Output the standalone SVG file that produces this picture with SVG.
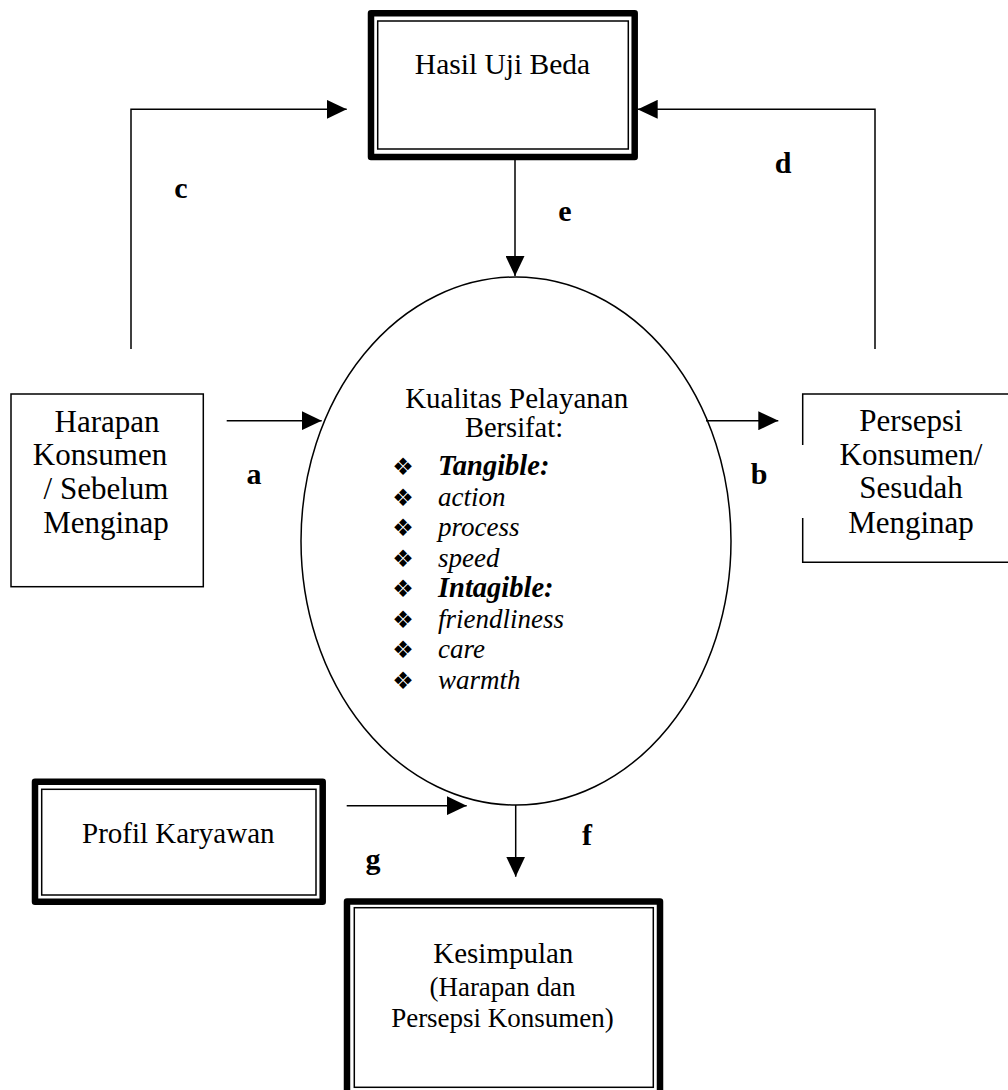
<svg xmlns="http://www.w3.org/2000/svg" width="1008" height="1090" viewBox="0 0 1008 1090">
<style>
.t{font-family:"Liberation Serif","Times New Roman",serif;fill:#000;text-anchor:middle}
.lbl{font-family:"Liberation Serif","Times New Roman",serif;font-weight:bold;font-size:30px;fill:#000;text-anchor:middle}
.thick{fill:none;stroke:#000;stroke-width:6.5;stroke-linejoin:round}
.thin{fill:none;stroke:#000;stroke-width:1.5}
.box{fill:#fff;stroke:#000;stroke-width:1.5}
.conn{fill:none;stroke:#000;stroke-width:1.5}
.bul{font-family:"DejaVu Sans",sans-serif;font-size:24px;fill:#000;text-anchor:middle}
.it{font-family:"Liberation Serif","Times New Roman",serif;font-style:italic;font-size:27px;fill:#000}
.bi{font-family:"Liberation Serif","Times New Roman",serif;font-style:italic;font-weight:bold;font-size:28.5px;fill:#000}
</style>
<defs>
<marker id="ah" markerUnits="userSpaceOnUse" markerWidth="20" markerHeight="19" refX="20" refY="9.5" orient="auto">
<path d="M0,0 L20,9.5 L0,19 z" fill="#000"/>
</marker>
</defs>
<rect width="1008" height="1090" fill="#fff"/>

<g id="hasil">
<rect class="thick" x="371" y="13.3" width="263.7" height="143.7"/>
<rect class="thin" x="377.7" y="21" width="250.6" height="128"/>
<text class="t" x="502.5" y="74" font-size="29.5">Hasil Uji Beda</text>
</g>

<g id="harapan">
<rect class="box" x="11" y="394" width="192.3" height="192.7"/>
<text class="t" font-size="31"><tspan x="107" y="431.7">Harapan</tspan><tspan x="100" y="465">Konsumen</tspan><tspan x="106" y="499.3">/ Sebelum</tspan><tspan x="106" y="533.3">Menginap</tspan></text>
</g>

<g id="persepsi">
<path class="thin" d="M1020,394 H802.7 V445 M802.7,518 V562.3 H1020"/>
<text class="t" font-size="31"><tspan x="911" y="430.7">Persepsi</tspan><tspan x="911" y="465">Konsumen/</tspan><tspan x="911" y="498">Sesudah</tspan><tspan x="911" y="533">Menginap</tspan></text>
</g>

<g id="kualitas">
<ellipse class="thin" cx="516" cy="541" rx="215" ry="264"/>
<text class="t" x="516.7" y="408" font-size="29">Kualitas Pelayanan</text>
<text class="t" x="514" y="437" font-size="28.5">Bersifat:</text>
<g class="bul">
<text x="403" y="475">❖</text>
<text x="403" y="505.5">❖</text>
<text x="403" y="536">❖</text>
<text x="403" y="566.5">❖</text>
<text x="403" y="597">❖</text>
<text x="403" y="627.5">❖</text>
<text x="403" y="658">❖</text>
<text x="403" y="688.5">❖</text>
</g>
<text class="bi" x="438" y="475">Tangible:</text>
<text class="it" x="438" y="505.5">action</text>
<text class="it" x="438" y="536">process</text>
<text class="it" x="438" y="566.5">speed</text>
<text class="bi" x="438" y="597">Intagible:</text>
<text class="it" x="438" y="627.5">friendliness</text>
<text class="it" x="438" y="658">care</text>
<text class="it" x="438" y="688.5">warmth</text>
</g>

<g id="profil">
<rect class="thick" x="35" y="781.7" width="287.7" height="120"/>
<rect class="thin" x="41.7" y="789.3" width="274.3" height="105.7"/>
<text class="t" x="178.3" y="843" font-size="29">Profil Karyawan</text>
</g>

<g id="kesimpulan">
<rect class="thick" x="347" y="901.5" width="313" height="200"/>
<rect class="thin" x="354.3" y="907.7" width="299" height="179.6"/>
<text class="t" x="503.3" y="963" font-size="29">Kesimpulan</text>
<text class="t" x="502.5" y="996" font-size="27">(Harapan dan</text>
<text class="t" x="502.5" y="1027" font-size="27">Persepsi Konsumen)</text>
</g>

<g id="connectors">
<path class="conn" d="M131,349 V109.3 H346.7" marker-end="url(#ah)"/>
<path class="conn" d="M875,349 V109.3 H637.7" marker-end="url(#ah)"/>
<path class="conn" d="M515,160 V276" marker-end="url(#ah)"/>
<path class="conn" d="M226.7,420.7 H321.7" marker-end="url(#ah)"/>
<path class="conn" d="M706,420.7 H778.3" marker-end="url(#ah)"/>
<path class="conn" d="M515.7,805 V876.7" marker-end="url(#ah)"/>
<path class="conn" d="M346.7,805.7 H466.7" marker-end="url(#ah)"/>
<text class="lbl" x="254" y="484">a</text>
<text class="lbl" x="759" y="484">b</text>
<text class="lbl" x="181" y="198">c</text>
<text class="lbl" x="783" y="173">d</text>
<text class="lbl" x="565" y="221">e</text>
<text class="lbl" x="587" y="845">f</text>
<text class="lbl" x="373" y="869">g</text>
</g>
</svg>
